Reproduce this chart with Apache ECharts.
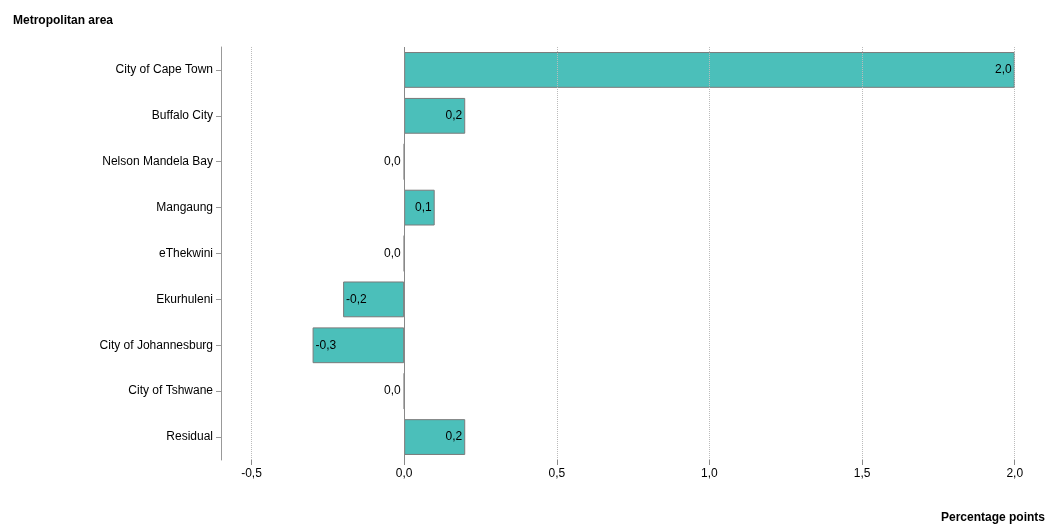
<!DOCTYPE html>
<html>
<head>
<meta charset="utf-8">
<script src="https://cdn.jsdelivr.net/npm/echarts@6/dist/echarts.min.js"></script>
<style>html,body{margin:0;padding:0;background:#fff}#chart{width:1056px;height:531px}</style>
</head>
<body>
<div id="chart"></div>
<script>
var categories = ['City of Cape Town', 'Buffalo City', 'Nelson Mandela Bay', 'Mangaung', 'eThekwini',
    'Ekurhuleni', 'City of Johannesburg', 'City of Tshwane', 'Residual']
var values = [2.0, 0.2, 0.0, 0.1, 0.0, -0.2, -0.3, 0.0, 0.2]
var tickValues = [-0.5, 0, 0.5, 1.0, 1.5, 2.0]

var chart = echarts.init(document.getElementById('chart'))
var fmt = function (v) { return v.toFixed(1).replace('.', ',') }

var option = {
    animation: false,
    textStyle: { fontFamily: 'Arial, Liberation Sans, sans-serif' },
    title: [
        { text: 'Metropolitan area', left: 8, top: 10, textStyle: { fontSize: 12, fontWeight: 'bold', color: '#000' } },
        { text: 'Percentage points', right: 6, bottom: 2, textStyle: { fontSize: 12, fontWeight: 'bold', color: '#000' } }
    ],
    grid: { left: 221, right: 26, top: 47, bottom: 71, containLabel: false },
    xAxis: {
        type: 'value', min: -0.6, max: 2.05,
        axisLine: { show: false },
        splitLine: { show: false },
        axisTick: { show: true, customValues: tickValues, lineStyle: { color: '#888' } },
        axisLabel: { customValues: tickValues, formatter: fmt, color: '#000', fontSize: 12 }
    },
    yAxis: {
        type: 'category', data: categories, inverse: true,
        axisLine: { show: true, onZero: false, lineStyle: { color: '#999' } },
        axisTick: { show: true, alignWithLabel: true, lineStyle: { color: '#999' } },
        axisLabel: { color: '#000', fontSize: 12, margin: 8 }
    },
    series: [{
        type: 'bar',
        barCategoryGap: '22%',
        data: values.map(function (v) {
            return {
                value: v,
                label: { position: v > 0 ? 'insideRight' : (v < 0 ? 'insideLeft' : 'left') }
            }
        }),
        itemStyle: { color: '#4bbfba', borderColor: '#7a7a7a', borderWidth: 1 },
        label: { show: true, color: '#000', fontSize: 12, distance: 3,
            formatter: function (p) { return fmt(p.value) } },
        markLine: {
            silent: true, symbol: 'none', label: { show: false },
            data: [
                { xAxis: -0.5, lineStyle: { type: 'dotted', color: '#bbb', width: 1 } },
                { xAxis: 0.5, lineStyle: { type: 'dotted', color: '#bbb', width: 1 } },
                { xAxis: 1.0, lineStyle: { type: 'dotted', color: '#bbb', width: 1 } },
                { xAxis: 1.5, lineStyle: { type: 'dotted', color: '#bbb', width: 1 } },
                { xAxis: 2.0, lineStyle: { type: 'dotted', color: '#bbb', width: 1 } },
                { xAxis: 0, lineStyle: { type: 'solid', color: '#888', width: 1 } }
            ]
        }
    }]
}
chart.setOption(option)
</script>
</body>
</html>
